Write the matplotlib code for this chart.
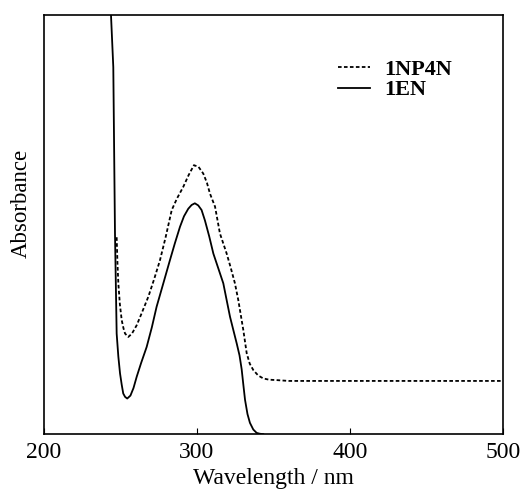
import matplotlib
matplotlib.use("Agg")
import matplotlib.pyplot as plt

# 1EN (solid)
wl_1en = [243.8, 245.3, 246.4, 247.5, 248.6, 249.7, 250.8, 251.8, 253.0, 254.4,
          256.5, 258.5, 260.6, 263.5, 267.1, 270.5, 273.6, 278.0, 282.3, 285.5,
          288.9, 291.5, 294.3, 296.5, 298.6, 300.8, 303.0, 305.2, 308.0, 310.7,
          314.0, 317.2, 319.5, 321.6, 324.0, 326.0, 327.8, 329.2, 330.3, 331.4,
          333.0, 334.6, 336.8, 339.0, 341.0, 343.3]
ab_1en = [1.00, 0.876, 0.48, 0.24, 0.185, 0.145, 0.118, 0.097, 0.089, 0.085,
          0.092, 0.110, 0.137, 0.170, 0.208, 0.255, 0.304, 0.360, 0.415, 0.455,
          0.495, 0.520, 0.538, 0.547, 0.551, 0.546, 0.535, 0.510, 0.472, 0.431,
          0.395, 0.360, 0.318, 0.280, 0.245, 0.216, 0.188, 0.155, 0.118, 0.082,
          0.048, 0.027, 0.011, 0.003, 0.001, 0.0]

# 1NP4N (dashed)
wl_np = [247.5, 248.0, 248.6, 249.6, 250.8, 252.0, 253.0, 255.1, 257.5, 260.6,
         264.0, 268.2, 272.0, 275.8, 279.5, 283.5, 287.0, 291.0, 294.5, 298.0,
         301.0, 304.1, 306.5, 308.5, 311.8, 315.0, 319.4, 322.0, 324.8, 327.0,
         330.3, 332.5, 334.5, 336.8, 340.0, 343.3, 347.0, 352.0, 360.0, 380.0,
         400.0, 420.0, 440.0, 460.0, 480.0, 500.0]
ab_np = [0.47, 0.41, 0.36, 0.31, 0.272, 0.252, 0.24, 0.232, 0.240, 0.260,
         0.290, 0.328, 0.370, 0.415, 0.470, 0.535, 0.563, 0.590, 0.618, 0.642,
         0.638, 0.622, 0.600, 0.574, 0.543, 0.479, 0.431, 0.398, 0.360, 0.320,
         0.248, 0.193, 0.168, 0.153, 0.140, 0.133, 0.130, 0.129, 0.127, 0.127,
         0.127, 0.127, 0.127, 0.127, 0.127, 0.127]

plt.rcParams['font.family'] = ['Liberation Serif', 'DejaVu Serif']

fig = plt.figure(figsize=(5.3, 4.9), dpi=100)
ax = fig.add_axes([0.083, 0.114, 0.866, 0.855])

ax.plot(wl_np, ab_np, color='black', lw=1.3, linestyle=(0, (2.0, 1.3)), label='1NP4N')
ax.plot(wl_1en, ab_1en, color='black', lw=1.3, label='1EN')

ax.set_xlim(200, 500)
ax.set_ylim(0, 1.0)
ax.set_xticks([200, 300, 400, 500])
ax.set_yticks([])
ax.tick_params(axis='x', direction='in', length=4, labelsize=17, pad=6)
ax.set_xlabel('Wavelength / nm', fontsize=17, labelpad=3)
ax.set_ylabel('Absorbance', fontsize=16.5)
ax.yaxis.set_label_coords(-0.027, 0.551)
for s in ax.spines.values():
    s.set_linewidth(1.2)

leg = ax.legend(loc='upper left', bbox_to_anchor=(0.6405, 0.895), frameon=False,
                prop={'family': 'Liberation Serif', 'weight': 'bold', 'size': 16},
                handlelength=1.45, handletextpad=0.65, labelspacing=0.0,
                borderpad=0, borderaxespad=0)

fig.savefig('out.png', dpi=100)
